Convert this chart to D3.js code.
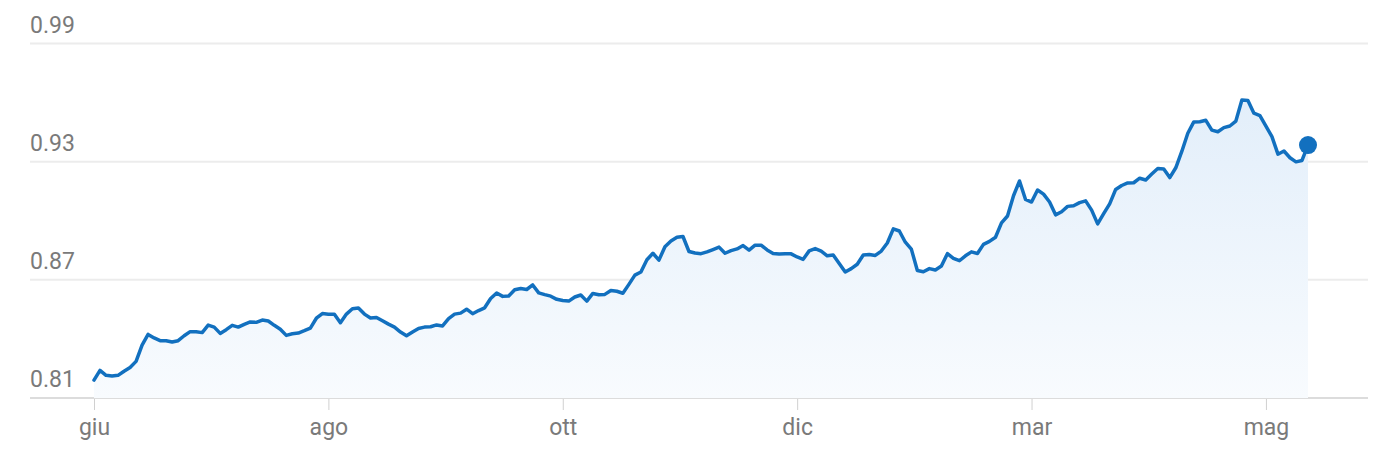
<!DOCTYPE html>
<html>
<head>
<meta charset="utf-8">
<script src="https://cdn.jsdelivr.net/npm/d3@7"></script>
<style>
  body { margin: 0; background: #fff; }
  text { font-family: Roboto, "Noto Sans", sans-serif; }
</style>
</head>
<body>
<div id="chart"></div>
<script>
const values = [
  0.8191, 0.8240, 0.8215, 0.8212, 0.8215, 0.8236, 0.8255, 0.8286, 0.8369, 0.8423,
  0.8405, 0.8391, 0.8391, 0.8384, 0.8391, 0.8416, 0.8437, 0.8436, 0.8432, 0.8470,
  0.8460, 0.8428, 0.8447, 0.8469, 0.8460, 0.8474, 0.8486, 0.8484, 0.8496, 0.8491,
  0.8469, 0.8449, 0.8418, 0.8426, 0.8430, 0.8442, 0.8455, 0.8505, 0.8529, 0.8525,
  0.8525, 0.8482, 0.8526, 0.8553, 0.8557, 0.8526, 0.8506, 0.8509, 0.8492, 0.8475,
  0.8460, 0.8435, 0.8416, 0.8435, 0.8453, 0.8460, 0.8462, 0.8471, 0.8466, 0.8503,
  0.8526, 0.8531, 0.8551, 0.8528, 0.8544, 0.8558, 0.8605, 0.8633, 0.8616, 0.8618,
  0.8650, 0.8656, 0.8651, 0.8674, 0.8634, 0.8625, 0.8617, 0.8601, 0.8595, 0.8592,
  0.8613, 0.8623, 0.8592, 0.8631, 0.8624, 0.8626, 0.8646, 0.8642, 0.8632, 0.8677,
  0.8724, 0.8740, 0.8802, 0.8835, 0.8800, 0.8868, 0.8897, 0.8916, 0.8920, 0.8844,
  0.8836, 0.8833, 0.8842, 0.8854, 0.8866, 0.8835, 0.8848, 0.8857, 0.8874, 0.8851,
  0.8876, 0.8876, 0.8852, 0.8834, 0.8831, 0.8833, 0.8832, 0.8816, 0.8804, 0.8847,
  0.8859, 0.8846, 0.8822, 0.8826, 0.8783, 0.8740, 0.8757, 0.8779, 0.8826, 0.8829,
  0.8824, 0.8846, 0.8887, 0.8959, 0.8948, 0.8891, 0.8856, 0.8747, 0.8741, 0.8757,
  0.8750, 0.8770, 0.8833, 0.8809, 0.8797, 0.8822, 0.8842, 0.8834, 0.8880, 0.8895,
  0.8916, 0.8989, 0.9024, 0.9127, 0.9202, 0.9108, 0.9095, 0.9156, 0.9135, 0.9095,
  0.9030, 0.9046, 0.9073, 0.9076, 0.9092, 0.9101, 0.9054, 0.8984, 0.9036, 0.9086,
  0.9159, 0.9179, 0.9192, 0.9193, 0.9216, 0.9207, 0.9237, 0.9265, 0.9263, 0.9219,
  0.9269, 0.9352, 0.9444, 0.9502, 0.9503, 0.9510, 0.9460, 0.9452, 0.9473, 0.9481,
  0.9506, 0.9613, 0.9611, 0.9546, 0.9534, 0.9481, 0.9427, 0.9338, 0.9354, 0.9320,
  0.9299, 0.9306, 0.9384
];
const yTicks = [0.81, 0.87, 0.93, 0.99];
const xTickIndex = [0, 39, 78, 117, 156, 195];
const xTickLabels = ["giu", "ago", "ott", "dic", "mar", "mag"];

const w = 1375;
const h = 475;
const lineColor = "#1270bf";
const labelColor = "#7a7a7a";

const xScale = d3.scaleLinear()
    .domain([0, values.length - 1])
    .range([94, 1308]);

const yScale = d3.scaleLinear()
    .domain([0.81, 0.99])
    .range([398, 43.5]);

const svg = d3.select("#chart")
    .append("svg")
    .attr("width", w)
    .attr("height", h);

const grad = svg.append("defs")
    .append("linearGradient")
    .attr("id", "fill")
    .attr("gradientUnits", "userSpaceOnUse")
    .attr("x1", 0).attr("x2", 0)
    .attr("y1", yScale(0.965)).attr("y2", yScale(0.81));
grad.append("stop").attr("offset", 0).attr("stop-color", "#e2eefa");
grad.append("stop").attr("offset", 1).attr("stop-color", "#f8fbfe");

// grid lines
svg.append("g")
    .selectAll("line")
    .data(yTicks)
    .enter()
    .append("line")
    .attr("x1", 30)
    .attr("x2", 1368)
    .attr("y1", (d) => yScale(d))
    .attr("y2", (d) => yScale(d))
    .attr("stroke", (d) => d === 0.81 ? "#dcdcdc" : "#ececec")
    .attr("stroke-width", 2);

// y labels
svg.append("g")
    .selectAll("text")
    .data(yTicks)
    .enter()
    .append("text")
    .attr("x", 30)
    .attr("y", (d) => yScale(d) - 11)
    .attr("font-size", 23)
    .attr("fill", labelColor)
    .text((d) => d.toFixed(2));

const area = d3.area()
    .x((d, i) => xScale(i))
    .y0(yScale(0.81))
    .y1((d) => yScale(d));

const line = d3.line()
    .x((d, i) => xScale(i))
    .y((d) => yScale(d));

svg.append("path")
    .datum(values)
    .attr("d", area)
    .attr("fill", "url(#fill)");

svg.append("path")
    .datum(values)
    .attr("d", line)
    .attr("fill", "none")
    .attr("stroke", lineColor)
    .attr("stroke-width", 3.5)
    .attr("stroke-linejoin", "round")
    .attr("stroke-linecap", "round");

// x axis
const xAxis = d3.axisBottom(xScale)
    .tickValues(xTickIndex)
    .tickFormat((d, i) => xTickLabels[i])
    .tickSize(11)
    .tickPadding(9);

const axisB = svg.append("g")
    .attr("transform", "translate(0," + (yScale(0.81) + 1) + ")")
    .call(xAxis);
axisB.select(".domain").remove();
axisB.selectAll(".tick line").attr("stroke", "#d0d0d0");
axisB.selectAll(".tick text")
    .attr("font-size", 23)
    .attr("fill", labelColor)
    .attr("font-family", "Roboto, sans-serif");

const last = values.length - 1;
svg.append("circle")
    .attr("cx", xScale(last))
    .attr("cy", yScale(values[last]))
    .attr("r", 9)
    .attr("fill", lineColor);
</script>
</body>
</html>
